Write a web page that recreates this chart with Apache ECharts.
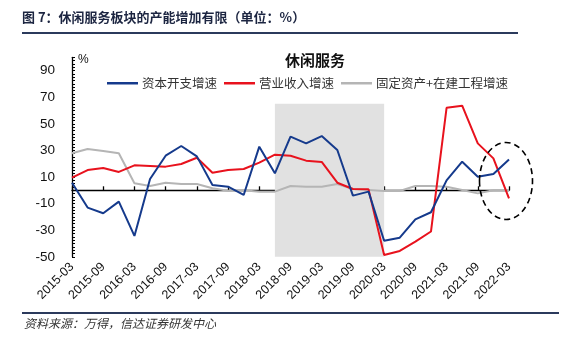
<!DOCTYPE html>
<html>
<head>
<meta charset="utf-8">
<script src="https://cdn.jsdelivr.net/npm/echarts@6/dist/echarts.min.js"></script>
<style>html,body{margin:0;padding:0;background:#fff;}#c{width:564px;height:344px;}</style>
</head>
<body>
<div id="c"></div>
<script>
var categories = ['2015-03','2015-06','2015-09','2015-12','2016-03','2016-06','2016-09','2016-12',
  '2017-03','2017-06','2017-09','2017-12','2018-03','2018-06','2018-09','2018-12',
  '2019-03','2019-06','2019-09','2019-12','2020-03','2020-06','2020-09','2020-12',
  '2021-03','2021-06','2021-09','2021-12','2022-03'];
var capexGrowth = [5.7,-13,-17.3,-8.5,-34.3,8.5,26,33.3,25.5,4,2.7,-3.5,32.8,12.8,40.3,35.3,40.8,30.3,-4,-1,-37.9,-35.6,-21.8,-16.5,7.5,21.5,10.2,12.2,23.2];
var revenueGrowth = [9.5,15.2,16.8,13.8,18.8,18.3,17.8,19.8,24.5,13.2,15.2,16,20.8,26.8,26,22.3,21.3,5.7,1,0.7,-48.6,-45.6,-38.6,-31,62,63.6,35.3,24,-6];
var assetGrowth = [27.8,31,29.5,27.8,5.3,3.2,5.7,4.7,4.7,1.5,-0.3,0,-1,-1,3.2,2.7,2.7,4.7,1,0.3,-0.5,-0.5,3.2,3.2,2.7,0.3,-2.3,0,0];
var seriesNames = ['资本开支增速','营业收入增速','固定资产+在建工程增速'];
var shadeRange = [['2018-06', 65], ['2020-03', -54]];

var chart = echarts.init(document.getElementById('c'));
var numFont = '"Liberation Sans", Arial, sans-serif';
var cjkFont = '"Noto Sans CJK SC", sans-serif';
chart.setOption({
  animation: false,
  backgroundColor: '#fff',
  title: {
    text: '休闲服务',
    left: 310, top: 48, textAlign: 'center',
    textStyle: {fontFamily: cjkFont, fontSize: 15, fontWeight: 'bold', color: '#111'}
  },
  legend: {
    data: seriesNames,
    left: 102, top: 72,
    itemWidth: 31, itemHeight: 2.5, itemGap: 7,
    icon: 'rect',
    textStyle: {fontFamily: cjkFont, fontSize: 12.5, color: '#333', padding: [0,0,0,-1]}
  },
  grid: {left: 72, right: 55, top: 57.3, bottom: 87.2, containLabel: false},
  xAxis: [{
    type: 'category', data: categories, boundaryGap: false, position: 'bottom',
    axisLine: {show: false, onZero: false},
    axisTick: {show: false},
    axisLabel: {interval: 1, rotate: 45, margin: 8, fontFamily: numFont, fontSize: 12.5, color: '#111'}
  }, {
    type: 'category', data: categories, boundaryGap: false, position: 'bottom',
    axisLine: {show: true, onZero: true, lineStyle: {color: '#000', width: 1.3}},
    axisTick: {show: true, inside: true, interval: 1, length: 4, lineStyle: {color: '#000', width: 1.3}},
    axisLabel: {show: false}
  }],
  yAxis: {
    type: 'value', min: -50, max: 100, interval: 10,
    name: '%', nameLocation: 'end', nameGap: -8,
    nameTextStyle: {fontFamily: numFont, fontSize: 12, color: '#111', align: 'left', padding: [0,0,0,6]},
    axisLine: {show: true, lineStyle: {color: '#000', width: 1.3}},
    axisTick: {show: true, inside: true, length: 3, lineStyle: {color: '#000'}},
    minorTick: {show: true, splitNumber: 4, length: 3, lineStyle: {color: '#000'}},
    splitLine: {show: false},
    axisLabel: {
      margin: 17, fontFamily: numFont, fontSize: 13.5, color: '#111',
      formatter: function (v) { return ((v + 50) % 20 === 0 && v < 100) ? String(v) : ''; }
    }
  },
  series: [{
    name: 'shade', type: 'line', data: [], z: 0, clip: false, silent: true,
    markArea: {silent: true, itemStyle: {color: '#e1e1e1'},
      data: [[{xAxis: shadeRange[0][0], yAxis: shadeRange[0][1]}, {xAxis: shadeRange[1][0], yAxis: shadeRange[1][1]}]]}
  }, {
    name: seriesNames[2], type: 'line', data: assetGrowth, symbol: 'none', z: 3,
    lineStyle: {color: '#b5b5b5', width: 2}, itemStyle: {color: '#b5b5b5'}
  }, {
    name: seriesNames[1], type: 'line', data: revenueGrowth, symbol: 'none', z: 4,
    lineStyle: {color: '#e8121d', width: 2}, itemStyle: {color: '#e8121d'}
  }, {
    name: seriesNames[0], type: 'line', data: capexGrowth, symbol: 'none', z: 5,
    lineStyle: {color: '#153a8c', width: 2}, itemStyle: {color: '#153a8c'}
  }],
  graphic: [
    {type: 'text', left: 22, top: 11, style: {text: '图 7：休闲服务板块的产能增加有限（单位：%）', fontFamily: cjkFont, fontSize: 13, fontWeight: 'bold', fill: '#1c2541'}},
    {type: 'line', shape: {x1: 22, y1: 33, x2: 518, y2: 33}, style: {stroke: '#2b3a5c', lineWidth: 2}},
    {type: 'line', shape: {x1: 22, y1: 313, x2: 559, y2: 313}, style: {stroke: '#2b3a5c', lineWidth: 2}},
    {type: 'text', left: 24, top: 317, style: {text: '资料来源：万得，信达证券研发中心', fontFamily: cjkFont, fontSize: 12, fontStyle: 'italic', fill: '#333'}},
    {type: 'ellipse', z: 10, shape: {cx: 506, cy: 181, rx: 26.5, ry: 38.5}, style: {fill: 'none', stroke: '#000', lineWidth: 1.6, lineDash: [6, 4]}}
  ]
});
</script>
</body>
</html>
